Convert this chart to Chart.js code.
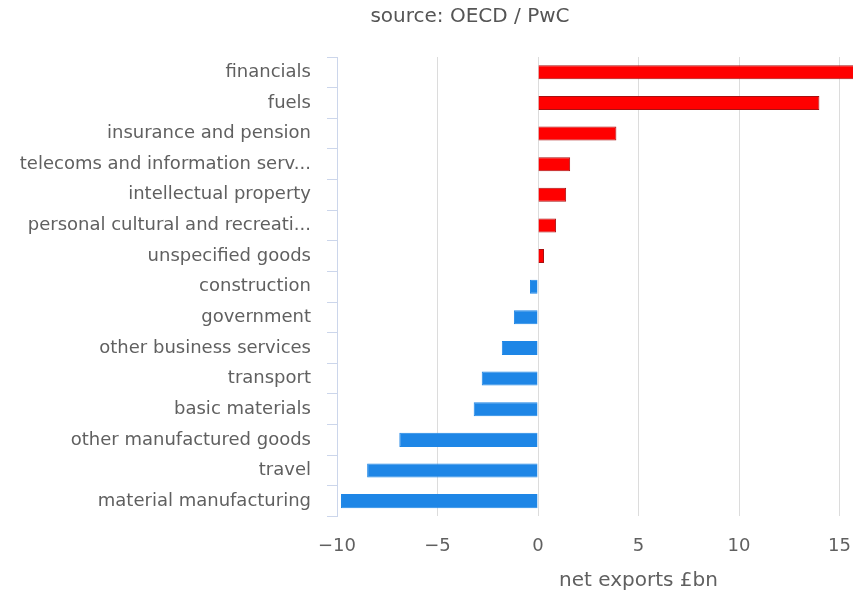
<!DOCTYPE html>
<html>
<head>
<meta charset="utf-8">
<script src="https://cdn.jsdelivr.net/npm/chart.js@4.4.0/dist/chart.umd.min.js"></script>
<style>
  html, body { margin: 0; padding: 0; background: #fff; overflow: hidden; }
  #box { width: 953px; height: 596px; }
</style>
</head>
<body>
<div id="box"><canvas id="myBarChart" width="953" height="596"></canvas></div>
<script>
// categories top to bottom
var sectors = ['financials', 'fuels', 'insurance and pension', 'telecoms and information serv...',
  'intellectual property', 'personal cultural and recreati...', 'unspecified goods', 'construction',
  'government', 'other business services', 'transport', 'basic materials',
  'other manufactured goods', 'travel', 'material manufacturing'];
// net exports, £bn (financials runs off the right edge)
var netExports = [16.5, 14.0, 3.9, 1.6, 1.4, 0.9, 0.3, -0.4, -1.2, -1.8, -2.8, -3.2, -6.9, -8.5, -9.8];
var xTicks = [-10, -5, 0, 5, 10, 15];

var barColors = netExports.map(v => v >= 0 ? '#ff0000' : '#1e86e6');
var borderColors = netExports.map(v => v >= 0 ? '#a81010' : '#1e86e6');

Chart.defaults.font.family = '"DejaVu Sans", Verdana, sans-serif';
Chart.defaults.color = '#606060';

let myChart = document.getElementById('myBarChart').getContext('2d');

let chart = new Chart(myChart, {
  type: 'bar',
  data: {
    labels: sectors,
    datasets: [{
      data: netExports,
      backgroundColor: barColors,
      borderColor: borderColors,
      borderWidth: 1,
      barPercentage: 0.46,
      categoryPercentage: 1
    }]
  },
  options: {
    indexAxis: 'y',
    responsive: false,
    animation: false,
    layout: { padding: { left: 0, right: 13, top: 0, bottom: 0 } },
    plugins: {
      legend: { display: false },
      tooltip: { enabled: false },
      title: {
        display: true,
        text: 'source: OECD / PwC',
        color: '#555',
        font: { size: 20, weight: 'normal' },
        padding: { top: 5, bottom: 28 }
      }
    },
    scales: {
      x: {
        min: -10,
        max: 20,
        afterBuildTicks: function(axis) {
          axis.ticks = xTicks.map(v => ({ value: v }));
        },
        grid: { color: '#dcdcdc', tickLength: 0, drawTicks: false },
        border: { display: false },
        ticks: {
          font: { size: 18 }, padding: 19.5, color: '#606060',
          callback: function(v) { return v < 0 ? '\u2212' + Math.abs(v) : '' + v; }
        },
        title: {
          display: true,
          text: 'net exports £bn',
          font: { size: 20 },
          color: '#606060',
          padding: { top: -8, bottom: 3 }
        }
      },
      y: {
        afterFit: function(axis) { axis.width = 337; },
        grid: { offset: true, drawOnChartArea: false, tickLength: 10, color: '#ccd6eb' },
        border: { display: true, color: '#ccd6eb' },
        ticks: { font: { size: 18 }, padding: 16, color: '#606060', autoSkip: false }
      }
    }
  }
});
</script>
</body>
</html>
